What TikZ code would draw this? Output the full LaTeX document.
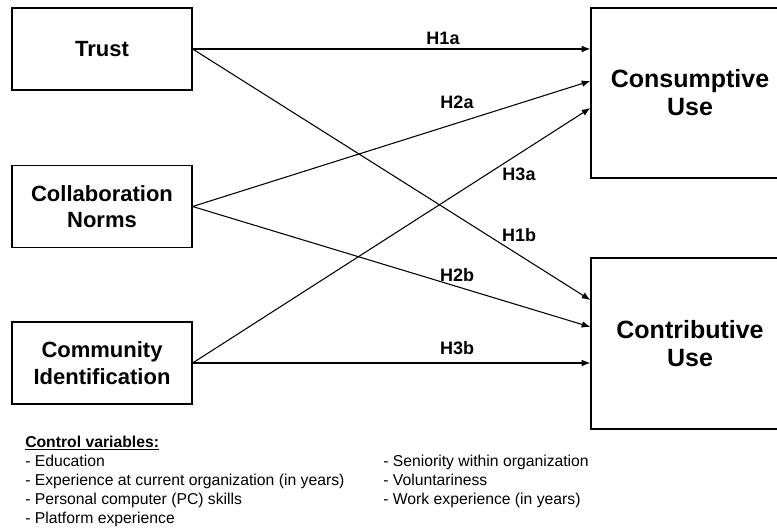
\documentclass[tikz,border=0pt]{standalone}
\usepackage{fontspec}
\setmainfont{Liberation Sans}
\usetikzlibrary{arrows.meta}

\begin{document}
\begin{tikzpicture}[x=0.75pt, y=-0.75pt,
    factor/.style={draw, line width=0.9pt, minimum width=135pt, minimum height=61.5pt,
      align=center, font=\fontsize{16.5}{20}\selectfont\bfseries},
    outcome/.style={draw, line width=0.9pt, minimum width=148.5pt, minimum height=128pt,
      align=center, font=\fontsize{18.75}{21}\selectfont\bfseries},
    hyp/.style={inner sep=0pt, font=\fontsize{13.5}{16}\selectfont\bfseries},
    ctrl/.style={anchor=base west, inner sep=0pt, font=\fontsize{11.8}{14}\selectfont},
    link/.style={line width=0.8pt, -{Latex[length=6.5pt,width=5pt]}}]
  \useasboundingbox (0,0) rectangle (777,528);
  \clip (0,0) rectangle (777,528);

  % antecedents
  \node[factor] (trust) at (102,49) {Trust};
  \node[factor] (norms) at (102,206.5) {Collaboration\\Norms};
  \node[factor] (ident) at (102,363) {Community\\Identification};

  % outcomes (cut at the right edge)
  \node[outcome, minimum height=127.5pt] (cons) at (690,93) {Consumptive\\Use};
  \node[outcome, minimum height=128.25pt] (contr) at (690,343.5) {Contributive\\Use};

  % paths
  \draw[link] (trust.east) -- (cons.west |- trust.east);
  \draw[link] (trust.east) -- ([yshift=32.6pt]contr.west);
  \draw[link] (norms.east) -- ([yshift=9pt]cons.west);
  \draw[link] (norms.east) -- ([yshift=12.4pt]contr.west);
  \draw[link] (ident.east) -- ([yshift=-11.25pt]cons.west);
  \draw[link] (ident.east) -- (contr.west |- ident.east);

  \node[hyp] (h1a) at (443,38) {H1a};
  \node[hyp] (h2a) at (457,102) {H2a};
  \node[hyp] (h3a) at (519,174) {H3a};
  \node[hyp] (h1b) at (519,235) {H1b};
  \node[hyp] (h2b) at (457,275) {H2b};
  \node[hyp] (h3b) at (457,348) {H3b};

  % controls
  \node[ctrl] (ctrlhead) at (25,447) {\textbf{\underline{Control variables:}}};
  \node[ctrl] (edu) at (25,466) {- Education};
  \node[ctrl] (exporg) at (25,485) {- Experience at current organization (in years)};
  \node[ctrl] (pcskill) at (25,504) {- Personal computer (PC) skills};
  \node[ctrl] (platexp) at (25,523) {- Platform experience};
  \node[ctrl] (senior) at (383,466) {- Seniority within organization};
  \node[ctrl] (volunt) at (383,485) {- Voluntariness};
  \node[ctrl] (workexp) at (383,504) {- Work experience (in years)};
\end{tikzpicture}
\end{document}
